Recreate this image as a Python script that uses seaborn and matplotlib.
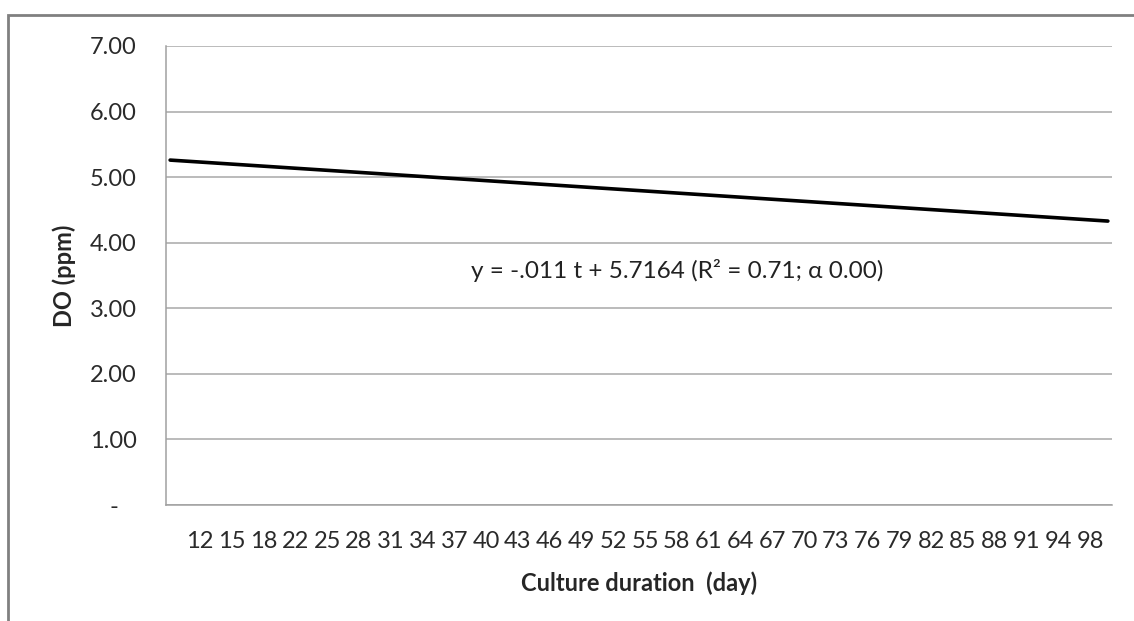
import matplotlib
matplotlib.use("Agg")
import matplotlib.pyplot as plt
import seaborn as sns
import pandas as pd
from matplotlib.patches import Rectangle

days = [12, 15, 18, 22, 25, 28, 31, 34, 37, 40, 43, 46, 49, 52, 55, 58, 61,
        64, 67, 70, 73, 76, 79, 82, 85, 88, 91, 94, 98]
trend_do = [5.26, 4.33]          # DO (ppm) at left and right ends of the trend line
y_ticks = [0, 1, 2, 3, 4, 5, 6, 7]
y_labels = ["-   ", "1.00", "2.00", "3.00", "4.00", "5.00", "6.00", "7.00"]
equation = "y = -.011 t + 5.7164 (R² = 0.71; α 0.00)"

sns.set_theme(style="white")
plt.rcParams['font.family'] = ['Lato', 'DejaVu Sans']

fig = plt.figure(figsize=(11.34, 6.21), dpi=100)
ax = fig.add_axes([166/1134, 1 - 505/621, (1112-166)/1134, (505-46)/621])

n = len(days)
xmin, xmax = -1.07, n - 1 + 0.69
ax.set_xlim(xmin, xmax)
ax.set_ylim(0, 7)

df = pd.DataFrame({"x": [xmin + 0.13, xmax - 0.13], "DO": trend_do})
sns.lineplot(data=df, x="x", y="DO", ax=ax, color="black", linewidth=2.6, zorder=3)

ax.set_yticks(y_ticks)
ax.set_yticklabels(y_labels)
ax.set_xticks(range(n))
ax.set_xticklabels([str(d) for d in days])
ax.tick_params(axis="y", length=0, pad=21, labelsize=17, colors="#2a2a2a")
ax.tick_params(axis="x", length=0, pad=19, labelsize=17, colors="#2a2a2a")
ax.yaxis.grid(True, color="#a8a8a8", linewidth=1.1)
ax.xaxis.grid(False)

for s in ["top", "right"]:
    ax.spines[s].set_visible(False)
ax.spines["left"].set_color("#a0a0a0")
ax.spines["bottom"].set_color("#a0a0a0")
ax.spines["left"].set_linewidth(1.1)
ax.spines["bottom"].set_linewidth(1.1)

ax.set_xlabel("Culture duration  (day)", fontsize=17, fontweight="bold", labelpad=14)
ax.set_ylabel("DO (ppm)", fontsize=17, fontweight="bold", labelpad=10)

ax.text(0.54, 3.58, equation, transform=ax.get_yaxis_transform(),
        ha="center", va="center", fontsize=17.5, color="#222222")

fig.patches.append(Rectangle((8/1134, -0.1), 1.2, 1 - 15/621 + 0.1,
                             transform=fig.transFigure, fill=False,
                             edgecolor="#808080", linewidth=2))

fig.savefig("out.png", dpi=100)
